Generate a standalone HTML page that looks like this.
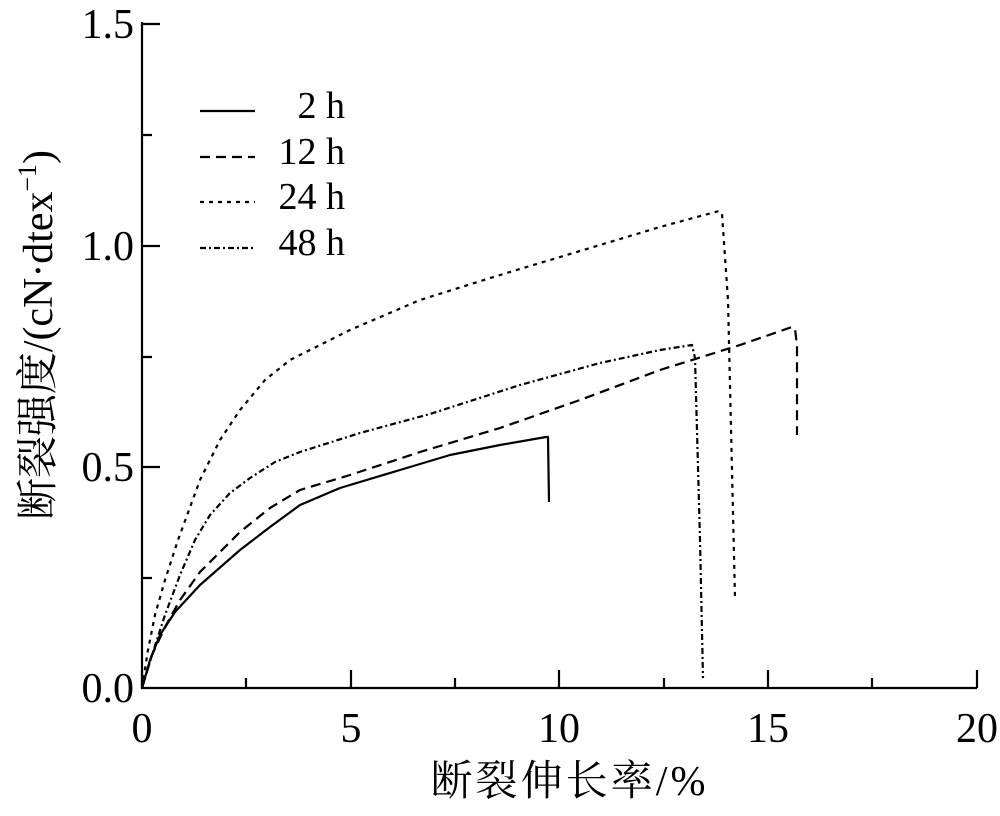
<!DOCTYPE html><html><head><meta charset="utf-8"><style>body{margin:0;background:#fff}svg{display:block}text{font-family:"Liberation Serif","Noto Serif CJK SC",serif;fill:#000}</style></head><body>
<svg width="1000" height="816" viewBox="0 0 1000 816">
<g stroke="#000" stroke-width="2.2" fill="none">
<polyline points="142,22 142,688 977,688"/>
<path d="M142,688v-18M246,688v-10M351,688v-18M455,688v-10M559,688v-18M664,688v-10M768,688v-18M872,688v-10M977,688v-18M142,578h10M142,467h18M142,357h10M142,246h18M142,135h10M142,24h18"/>
</g>
<g font-size="42">
<text x="142" y="742" text-anchor="middle">0</text>
<text x="351" y="742" text-anchor="middle">5</text>
<text x="559" y="742" text-anchor="middle">10</text>
<text x="768" y="742" text-anchor="middle">15</text>
<text x="977" y="742" text-anchor="middle">20</text>
<text x="134" y="702" text-anchor="end">0.0</text>
<text x="134" y="481" text-anchor="end">0.5</text>
<text x="134" y="260" text-anchor="end">1.0</text>
<text x="134" y="38" text-anchor="end">1.5</text>
<text x="568" y="795" text-anchor="middle" textLength="275">断裂伸长率/%</text>
<text transform="translate(52,335) rotate(-90)" text-anchor="middle" textLength="370">断裂强度/(cN·dtex<tspan font-size="26" dy="-16">−1</tspan><tspan dy="16">)</tspan></text>
</g>
<g font-size="38">
<text x="345" y="118" text-anchor="end">2 h</text>
<text x="345" y="164" text-anchor="end">12 h</text>
<text x="345" y="209" text-anchor="end">24 h</text>
<text x="345" y="255" text-anchor="end">48 h</text>
</g>
<g stroke="#000" stroke-width="2.2" fill="none" stroke-linejoin="round">
<path d="M200,111h55"/>
<path d="M200,157h55" stroke-dasharray="10,6"/>
<path d="M200,202h55" stroke-dasharray="4,5"/>
<path d="M200,248h55" stroke-dasharray="6,3,2,3"/>
<polyline points="142,688 150,660 160,635 175,612 200,585 240,550 270,527 300,505 340,488 400,470 450,455 500,445 546,437 548,437 549,502"/>
<polyline stroke-dasharray="10,6" points="142,688 152,655 165,627 180,600 200,572 240,532 270,508 300,490 350,475 420,452 500,428 580,400 660,370 740,345 792,327 795,329 797,345 797,435"/>
<polyline stroke-dasharray="4,5" points="142,688 148,650 155,615 165,580 178,540 200,480 220,440 240,410 265,380 290,360 320,345 350,330 420,300 500,275 600,245 660,227 719,211 722,214 728,300 735,598"/>
<polyline stroke-dasharray="6,3,2,3" points="142,688 152,655 165,615 180,575 195,540 210,515 230,493 250,478 275,462 300,452 360,433 430,414 520,385 600,363 660,350 692,345 695,358 700,540 703,678"/>
</g>
</svg></body></html>
